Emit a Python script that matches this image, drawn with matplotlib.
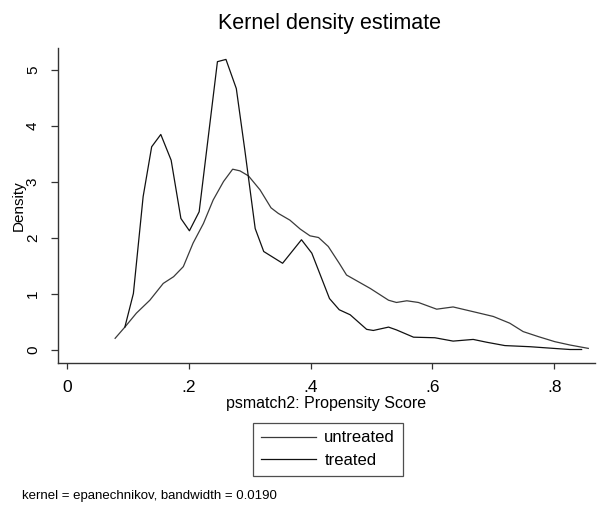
import matplotlib
matplotlib.use("Agg")
import matplotlib.pyplot as plt

# propensity score grid and densities
treated_x = [0.095, 0.109, 0.125, 0.139, 0.154, 0.171, 0.187, 0.201, 0.217, 0.232,
             0.247, 0.261, 0.278, 0.292, 0.309, 0.323, 0.354, 0.385, 0.402, 0.431,
             0.447, 0.465, 0.492, 0.503, 0.528, 0.541, 0.569, 0.604, 0.634, 0.667,
             0.689, 0.719, 0.760, 0.799, 0.826, 0.845]
treated_y = [0.40, 1.00, 2.73, 3.62, 3.84, 3.38, 2.34, 2.12, 2.46, 3.80,
             5.14, 5.18, 4.66, 3.56, 2.16, 1.75, 1.54, 1.96, 1.72, 0.91,
             0.71, 0.62, 0.36, 0.34, 0.40, 0.35, 0.22, 0.21, 0.15, 0.18,
             0.13, 0.07, 0.05, 0.02, 0.00, 0.00]

untreated_x = [0.079, 0.095, 0.114, 0.136, 0.158, 0.175, 0.191, 0.207, 0.224, 0.240,
               0.257, 0.272, 0.284, 0.298, 0.317, 0.335, 0.347, 0.366, 0.383, 0.399,
               0.413, 0.429, 0.447, 0.459, 0.498, 0.528, 0.541, 0.558, 0.577, 0.607,
               0.634, 0.673, 0.700, 0.727, 0.749, 0.774, 0.801, 0.826, 0.856]
untreated_y = [0.20, 0.40, 0.65, 0.88, 1.18, 1.30, 1.48, 1.90, 2.25, 2.67,
               3.00, 3.22, 3.19, 3.10, 2.85, 2.53, 2.43, 2.31, 2.15, 2.03,
               2.00, 1.84, 1.54, 1.33, 1.09, 0.88, 0.84, 0.87, 0.84, 0.72,
               0.76, 0.66, 0.59, 0.47, 0.32, 0.23, 0.14, 0.08, 0.02]

x_ticks = [0, 0.2, 0.4, 0.6, 0.8]
x_ticklabels = ["0", ".2", ".4", ".6", ".8"]
y_ticks = [0, 1, 2, 3, 4, 5]

font = ["Liberation Sans", "DejaVu Sans"]
W, H = 598, 505

fig = plt.figure(figsize=(W / 100, H / 100), dpi=100)
ax = fig.add_axes([58 / W, 1 - 363 / H, (595 - 58) / W, (363 - 48) / H])

ax.plot(untreated_x, untreated_y, color="#3a3a3a", lw=0.9, label="untreated")
ax.plot(treated_x, treated_y, color="#111111", lw=0.9, label="treated")

ax.set_xlim(-0.0148, 0.867)
ax.set_ylim(-0.241, 5.384)

for s in ["top", "right"]:
    ax.spines[s].set_visible(False)
for s in ["left", "bottom"]:
    ax.spines[s].set_color("#333333")
    ax.spines[s].set_linewidth(1.0)

ax.set_xticks(x_ticks)
ax.set_xticklabels(x_ticklabels, fontfamily=font, fontsize=12.5)
ax.set_yticks(y_ticks)
ax.set_yticklabels([str(v) for v in y_ticks], fontfamily=font, fontsize=11,
                   rotation=90, va="center")
ax.tick_params(axis="x", direction="out", length=4, width=0.9, pad=8, color="#333333")
ax.tick_params(axis="y", direction="out", length=5, width=0.9, pad=8, color="#333333")

ax.set_xlabel("psmatch2: Propensity Score", fontfamily=font, fontsize=11.5, labelpad=1)
ax.set_ylabel("Density", fontfamily=font, fontsize=11, labelpad=0)

fig.text(329 / W, 1 - 24 / H, "Kernel density estimate", fontfamily=font,
         fontsize=15.5, ha="center", va="center")

leg = fig.legend(loc="upper center", bbox_to_anchor=(328 / W, 1 - 423 / H),
                 prop={"family": font, "size": 12}, frameon=True, fancybox=False,
                 handlelength=3.3, handletextpad=0.5, labelspacing=0.45,
                 borderpad=0.45, borderaxespad=0, edgecolor="#222222")
leg.get_frame().set_linewidth(0.9)

fig.text(22 / W, 1 - 496 / H, "kernel = epanechnikov, bandwidth = 0.0190",
         fontfamily=font, fontsize=9.5, ha="left", va="center")

fig.savefig("out.png", dpi=100, facecolor="white")
